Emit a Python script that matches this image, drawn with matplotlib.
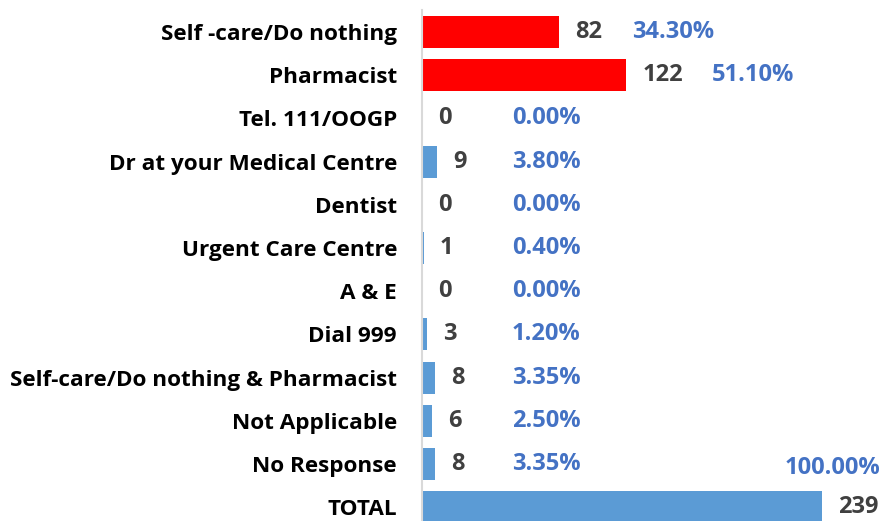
import matplotlib
matplotlib.use("Agg")
import matplotlib.pyplot as plt

plt.rcParams['font.family'] = ['Open Sans', 'DejaVu Sans']

categories = ["Self -care/Do nothing", "Pharmacist", "Tel. 111/OOGP", "Dr at your Medical Centre",
              "Dentist", "Urgent Care Centre", "A & E", "Dial 999",
              "Self-care/Do nothing & Pharmacist", "Not Applicable", "No Response", "TOTAL"]
counts = [82, 122, 0, 9, 0, 1, 0, 3, 8, 6, 8, 239]
pct_labels = ["34.30%", "51.10%", "0.00%", "3.80%", "0.00%", "0.40%", "0.00%",
              "1.20%", "3.35%", "2.50%", "3.35%", "100.00%"]
highlight = ["Self -care/Do nothing", "Pharmacist"]

W, H = 885, 521
fig = plt.figure(figsize=(W / 100, H / 100), dpi=100)
row_h = 43.2
top = 10.4
ax_h = row_h * len(categories)
ax = fig.add_axes([422 / W, (H - top - ax_h) / H, (W - 422) / W, ax_h / H])

colors = ["#FF0000" if c in highlight else "#5B9BD5" for c in categories]
y = list(range(len(categories)))
ax.barh(y, counts, height=0.74, color=colors)
ax.set_ylim(len(categories) - 0.5, -0.5)
ax.set_xlim(0, 276.6)

ax.set_yticks(y)
ax.set_yticklabels(categories, fontsize=16.2, fontweight='bold', color='black')
ax.tick_params(axis='y', length=0, pad=18)
ax.set_xticks([])
for s in ['top', 'right', 'bottom']:
    ax.spines[s].set_visible(False)
ax.spines['left'].set_color('#D9D9D9')
ax.spines['left'].set_linewidth(1.5)

nfs = 17
pt = 72 / 100  # px -> points at dpi 100
for i, (v, p) in enumerate(zip(counts, pct_labels)):
    ax.annotate(str(v), (v, i), xytext=(16 * pt, 0), textcoords='offset points',
                ha='left', va='center', fontsize=nfs, fontweight='bold', color='#404040')
    if i == len(categories) - 1:
        ax.annotate(p, (v, i), xytext=(58 * pt, 39 * pt), textcoords='offset points',
                    ha='right', va='center', fontsize=nfs, fontweight='bold', color='#4472C4')
        continue
    bar_px = v * (400 / 239)
    count_w = 13 * len(str(v))
    x_px = max(bar_px + 16 + count_w + 31, 90)
    ax.annotate(p, (0, i), xytext=(x_px * pt, 0), textcoords='offset points',
                ha='left', va='center', fontsize=nfs, fontweight='bold', color='#4472C4')

fig.savefig("out.png", dpi=100)
